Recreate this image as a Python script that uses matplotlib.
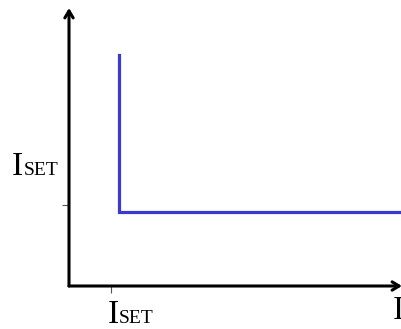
import matplotlib.pyplot as plt

# characteristic curve (arbitrary units, axes run 0..10)
curve_x = [1.5, 1.5, 9.9]
curve_y = [8.3, 2.65, 2.65]
x_tick = [1.25]
y_tick = [2.9]

fig = plt.figure(figsize=(4.02, 3.29), dpi=100)
W, H = 402, 329
ax = fig.add_axes([69 / W, (H - 286) / H, (W - 69) / W, (286 - 8) / H])
ax.set_xlim(0, 10)
ax.set_ylim(0, 10)
for s in ax.spines.values():
    s.set_visible(False)

ax.plot(curve_x, curve_y, color="#3a3ad2", lw=2.3, solid_joinstyle="miter")

# axis arrows
arrow = dict(arrowstyle="->,head_length=0.5,head_width=0.3", lw=2.2, color="black",
             shrinkA=0, shrinkB=0)
ax.annotate("", xy=(0, 1), xytext=(0, 0), xycoords="axes fraction",
            arrowprops=arrow, annotation_clip=False)
ax.annotate("", xy=(1.0, 0), xytext=(0, 0), xycoords="axes fraction",
            arrowprops=arrow, annotation_clip=False)

ax.set_xticks(x_tick)
ax.set_yticks(y_tick)
ax.set_xticklabels([])
ax.set_yticklabels([])
ax.tick_params(length=5, width=0.8, color="#555555")

serif = "Liberation Serif"
big, small = 24, 14


def iset(x, y):
    t = ax.text(x, y, "I", fontsize=big, family=serif, va="baseline", ha="left",
                clip_on=False)
    # put "SET" on the same baseline as the big "I"
    ax.annotate("SET", xy=(1, 0), xycoords=t, xytext=(0.3, 0.217 * big),
                textcoords="offset points", fontsize=small, family=serif,
                va="baseline", ha="left", annotation_clip=False)
    return t


iset(-1.72, 3.99)
iset(1.15, -1.33)
ax.text(9.73, -1.19, "I", fontsize=big, family=serif, va="baseline", ha="left",
        clip_on=False)

fig.savefig("out.png", dpi=100)
